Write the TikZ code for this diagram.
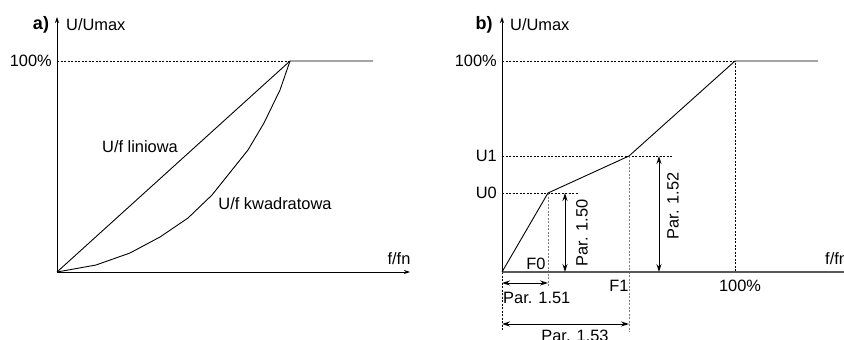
\documentclass[tikz,border=0pt]{standalone}
\usepackage{fontspec}
\setmainfont{Liberation Sans}
\usetikzlibrary{arrows.meta,positioning}

\begin{document}
\begin{tikzpicture}[x=1pt,y=-1pt,>={Stealth[length=8pt,width=5pt]},
  font=\fontsize{16.4}{19}\selectfont,
  every node/.style={inner sep=1pt},
  panel/.style={font=\fontsize{18}{20}\selectfont\bfseries},
  axis/.style={line width=0.8pt,-{Stealth[length=6pt,width=4pt]}},
  graph/.style={line width=0.9pt},
  guide/.style={line width=0.6pt,dash pattern=on 2pt off 1.5pt},
  greyguide/.style={guide,gray}]
  \useasboundingbox (0,0) rectangle (844,340);
  % a) linear and quadratic characteristic
  \coordinate (a0) at (57,272);
  \coordinate (atop) at (57,17);
  \coordinate (aend) at (410,272);
  \coordinate (a100) at (290,61);
  \coordinate (amax) at (373,61);
  \draw[axis] (a0) -- (atop);
  \draw[axis] (a0) -- (aend);
  \draw[guide] (a100 -| a0) -- (a100);
  \draw[graph] (a0) -- (a100) -- (amax);
  \draw[graph] plot coordinates {(57,272) (96,265) (130,253) (160,237) (188,218)
    (212,195) (232,170) (248,150) (264,123) (280,90) (290,61)};
  \node[panel] (alab) at (41,25) {a)};
  \node[right] (aylab) at (65,25) {U/Umax};
  \node[left] (a100lab) at (53,61) {100\%};
  \node (alin) at (140,147) {U/f liniowa};
  \node (akw) at (275,204) {U/f kwadratowa};
  \node (axlab) at (399,259) {f/fn};
  % b) U/f with two break points
  \coordinate (b0) at (502,272);
  \coordinate (btop) at (502,17);
  \coordinate (bend) at (850,272);
  \coordinate (bu0) at (548,193);
  \coordinate (bu1) at (629,156);
  \coordinate (b100) at (735,61);
  \coordinate (bmax) at (818,61);
  \draw[guide] (b100 -| b0) -- (b100) -- (b100 |- b0);
  \draw[guide] (bu1 -| b0) -- (bu1) -- ++(43,0);
  \draw[guide] (bu0 -| b0) -- (bu0) -- ++(30,0);
  \draw[greyguide] (bu0) -- ++(0,94);
  \draw[greyguide] (bu1) -- ++(0,176);
  \draw[guide] (b0) -- ++(0,58);
  \draw[axis] (b0) -- (btop);
  \draw[axis,line width=1.5pt,gray!70!black] (b0) -- (bend);
  \draw[graph] (b0) -- (bu0) -- (bu1) -- (b100) -- (bmax);
  % parameter arrows
  \coordinate (p50) at (565,193);
  \coordinate (p52) at (659,156);
  \draw[<->,line width=0.9pt] (p50) -- (p50 |- b0);
  \draw[<->,line width=0.9pt] (p52) -- (p52 |- b0);
  \coordinate (p51) at (502,283);
  \coordinate (p53) at (502,324);
  \draw[<->,line width=0.9pt] (p51) -- (p51 -| bu0);
  \draw[<->,line width=0.9pt] (p53) -- (p53 -| bu1);
  \node[rotate=90] (l50) at (582,233) {Par. 1.50};
  \node[rotate=90] (l52) at (673,206) {Par. 1.52};
  \node[right] (l51) at (502,298) {Par. 1.51};
  \node (l53) at (575,336) {Par. 1.53};
  \node (f0lab) at (536,264) {F0};
  \node (f1lab) at (619,286) {F1};
  \node (bx100) at (740,286) {100\%};
  \node[panel] (blab) at (484,25) {b)};
  \node[right] (bylab) at (509,25) {U/Umax};
  \node[left] (b100lab) at (498,61) {100\%};
  \node[left] (bu1lab) at (498,156) {U1};
  \node[left] (bu0lab) at (498,193) {U0};
  \node[right] (bxlab) at (824,259) {f/fn};
\end{tikzpicture}
\end{document}
